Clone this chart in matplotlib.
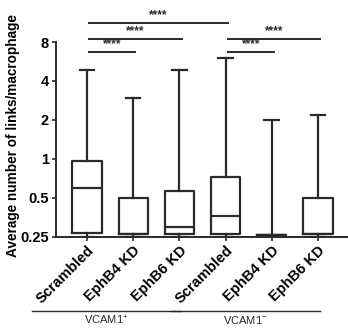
import matplotlib
matplotlib.use('Agg')
import matplotlib.pyplot as plt
import matplotlib.transforms as mtransforms

plt.rcParams['font.family'] = ['Liberation Sans', 'DejaVu Sans']
plt.rcParams['mathtext.fontset'] = 'custom'
plt.rcParams['mathtext.rm'] = 'Liberation Sans'
plt.rcParams['mathtext.default'] = 'regular'

# box summaries
labels = ['Scrambled', 'EphB4 KD', 'EphB6 KD', 'Scrambled', 'EphB4 KD', 'EphB6 KD']
whis_lo = [0.25, 0.25, 0.25, 0.25, 0.25, 0.25]
q1 = [0.265, 0.262, 0.262, 0.262, 0.256, 0.262]
medians = [0.6, 0.262, 0.295, 0.36, 0.256, 0.262]
q3 = [0.96, 0.5, 0.565, 0.72, 0.256, 0.5]
whis_hi = [4.9, 2.95, 4.9, 6.0, 2.0, 2.2]

yticks = [0.25, 0.5, 1, 2, 4, 8]
ytick_labels = ['0.25', '0.5', '1', '2', '4', '8']

# significance comparisons (box index a, box index b, bar height, label)
comparisons = [(0, 3, 11.3, '****'), (0, 2, 8.45, '****'), (0, 1, 6.67, '****'),
               (3, 5, 8.45, '****'), (3, 4, 6.67, '****')]

groups = [('VCAM1$^{+}$', 0, 2), ('VCAM1$^{-}$', 3, 5)]

col = '#2a2a2a'
fig = plt.figure(figsize=(3.48, 3.30), dpi=100)
ax = fig.add_axes([0.161, 0.2827, 0.839, 0.59])

pos = list(range(1, len(labels) + 1))
stats = []
for i in range(len(labels)):
    stats.append(dict(med=medians[i], q1=q1[i], q3=q3[i],
                      whislo=whis_lo[i], whishi=whis_hi[i], fliers=[]))
lp = dict(color=col, linewidth=1.6)
ax.bxp(stats, positions=pos, widths=0.63, showfliers=False,
       boxprops=lp, whiskerprops=lp, capprops=lp, medianprops=lp)

ax.set_yscale('log', base=2)
ax.set_ylim(0.25, 8)
ax.set_xlim(0.33, 6.65)
ax.set_yticks(yticks)
ax.set_yticklabels(ytick_labels, fontsize=10.5, fontweight='bold')
ax.minorticks_off()
ax.set_xticks(pos)
ax.set_xticklabels(labels, rotation=45, ha='right', rotation_mode='anchor',
                   fontsize=10.5, fontweight='bold')
ax.tick_params(axis='both', length=3, width=1.2, color=col, pad=2)
for s in ['top', 'right']:
    ax.spines[s].set_visible(False)
for s in ['left', 'bottom']:
    ax.spines[s].set_linewidth(1.4)
    ax.spines[s].set_color(col)
ax.spines['left'].set_bounds(0.25, 8)

ax.set_ylabel('Average number of links/macrophage', fontsize=9.8, fontweight='bold')
ax.yaxis.set_label_coords(-0.125, 0.52)

for a, b, h, txt in comparisons:
    ax.plot([pos[a] + 0.05, pos[b] + 0.05], [h, h], color=col, lw=1.4, clip_on=False)
    ax.text((pos[a] + pos[b]) / 2 + 0.05, h * 1.03, txt, ha='center', va='bottom',
            fontsize=8.5, fontweight='bold', color=col)

trans = mtransforms.blended_transform_factory(ax.transData, fig.transFigure)
for name, a, b in groups:
    x0 = pos[a] - 1.19
    x1 = pos[b] + 0.04
    ax.plot([x0, x1], [0.058, 0.058], color=col, lw=1.0, transform=trans, clip_on=False)
    ax.text((x0 + x1) / 2, 0.03, name, ha='center', va='center', fontsize=8,
            color=col, transform=trans)

fig.savefig('out.png', dpi=100)
